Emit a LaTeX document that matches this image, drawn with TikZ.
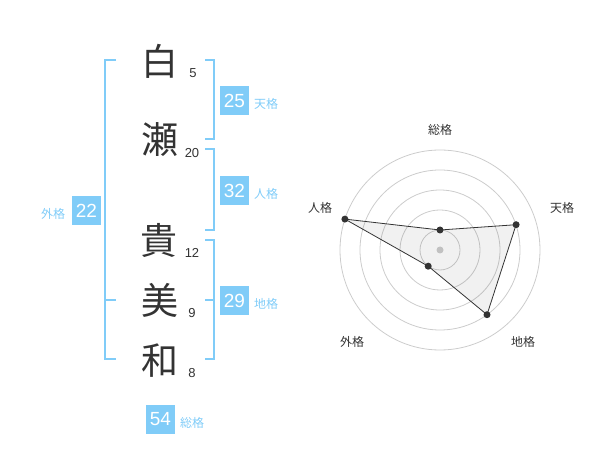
\documentclass[tikz,border=0pt]{standalone}
\usepackage{fontspec}
\setmainfont{Liberation Sans}
\newfontfamily\jp{Noto Sans CJK JP}
\definecolor{kblue}{RGB}{128,204,248}
\definecolor{kdark}{RGB}{51,51,51}
\definecolor{kring}{RGB}{204,204,204}
\begin{document}
\begin{tikzpicture}[x=1pt,y=-1pt,
  kanji/.style={inner sep=0pt,text=kdark,font=\jp\fontsize{37}{37}\selectfont},
  stroke/.style={inner sep=0pt,text=kdark,font=\fontsize{13}{13}\selectfont},
  valbox/.style={fill=kblue,text=white,minimum width=29pt,minimum height=29pt,inner sep=0pt,font=\fontsize{19}{19}\selectfont},
  kaku/.style={inner sep=0pt,text=kblue,font=\jp\fontsize{12}{12}\selectfont},
  brack/.style={draw=kblue,line width=2pt},
  ring/.style={draw=kring,line width=0.8pt},
  rlabel/.style={inner sep=0pt,text=kdark,font=\jp\fontsize{12}{12}\selectfont},
  dot/.style={circle,fill=kdark,inner sep=0pt,minimum size=7pt}]
\useasboundingbox (0,0) rectangle (600,470);
% name characters
\node[kanji] (c1) at (160,61) {白};
\node[kanji] (c2) at (160,140) {瀬};
\node[kanji] (c3) at (159,240) {貴};
\node[kanji] (c4) at (160,300) {美};
\node[kanji] (c5) at (160,361) {和};
% stroke counts
\node[stroke] (s1) at (193,73) {5};
\node[stroke] (s2) at (192,153) {20};
\node[stroke] (s3) at (192,253) {12};
\node[stroke] (s4) at (192,313) {9};
\node[stroke] (s5) at (192,373) {8};
% brackets
\draw[brack] (116,60) -- (105,60) -- (105,359) -- (116,359);
\draw[brack] (105,300) -- (116,300);
\draw[brack] (205,60) -- (214,60) -- (214,139) -- (205,139);
\draw[brack] (205,149) -- (214,149) -- (214,230) -- (205,230);
\draw[brack] (205,240) -- (214,240) -- (214,359) -- (205,359);
\draw[brack] (205,300) -- (214,300);
% value boxes
\node[valbox] (ten) at (234.5,100.5) {25};
\node[kaku] (tenL) at (266,104) {天格};
\node[valbox] (jin) at (234.5,190.5) {32};
\node[kaku] (jinL) at (266,194) {人格};
\node[valbox] (chi) at (234.5,300.5) {29};
\node[kaku] (chiL) at (266,304) {地格};
\node[valbox] (gai) at (86.5,210.5) {22};
\node[kaku] (gaiL) at (53,214) {外格};
\node[valbox] (sou) at (160.5,419.5) {54};
\node[kaku] (souL) at (192,423) {総格};
% radar chart
\coordinate (O) at (440,250);
\foreach \r in {20,40,60,80,100} \draw[ring] (O) circle[radius=\r];
\fill[kring] (O) circle[radius=3.5];
\coordinate (pSou) at (440,230);
\coordinate (pTen) at (516.1,224.7);
\coordinate (pChi) at (487.0,314.7);
\coordinate (pGai) at (428.2,266.2);
\coordinate (pJin) at (344.9,219.1);
\fill[kdark,opacity=0.07] (pSou) -- (pTen) -- (pChi) -- (pGai) -- (pJin) -- cycle;
\draw[kdark,line width=0.8pt] (pSou) -- (pTen) -- (pChi) -- (pGai) -- (pJin) -- cycle;
\foreach \p in {pSou,pTen,pChi,pGai,pJin} \node[dot] at (\p) {};
\node[rlabel] (lSou) at (440,130) {総格};
\node[rlabel] (lTen) at (562,208) {天格};
\node[rlabel] (lJin) at (320,208) {人格};
\node[rlabel] (lGai) at (352,342) {外格};
\node[rlabel] (lChi) at (523,342) {地格};
\end{tikzpicture}
\end{document}
